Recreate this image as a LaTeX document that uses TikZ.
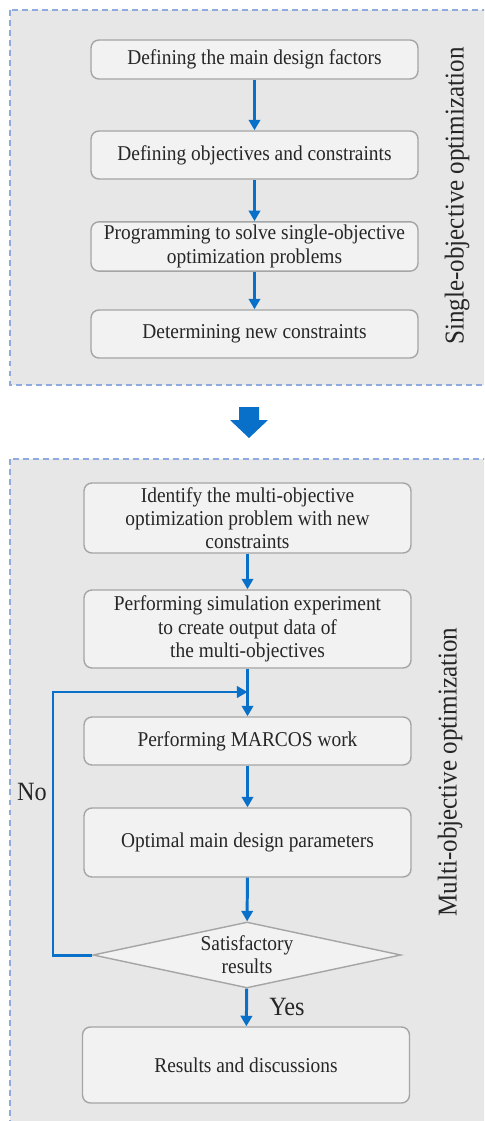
\documentclass[tikz,border=0pt]{standalone}
\usepackage{fontspec}
\setmainfont{Liberation Serif}[FakeStretch=0.92]
\usetikzlibrary{arrows.meta,shapes.geometric}
\definecolor{panelfill}{HTML}{E7E7E7}
\definecolor{paneledge}{HTML}{8FAADC}
\definecolor{boxfill}{HTML}{F2F2F2}
\definecolor{boxedge}{HTML}{A5A5A5}
\definecolor{flowblue}{HTML}{0870C8}
\definecolor{txt}{HTML}{262626}
\begin{document}
\begin{tikzpicture}[x=0.02cm,y=-0.02cm,>={Triangle[width=6.5pt,length=6pt]},
font=\fontsize{12}{13.2}\selectfont,text=txt,
panel/.style={fill=panelfill,draw=paneledge,line width=.85pt,dash pattern=on 3.4pt off 2.3pt},
stage/.style={draw=boxedge,fill=boxfill,line width=.8pt,rounded corners=4.5pt,minimum width=6.54cm,align=center,inner sep=2pt},
check/.style={diamond,draw=boxedge,fill=boxfill,line width=.8pt,minimum width=6.16cm,minimum height=1.32cm,aspect=4.67,inner sep=0pt,align=center},
flow/.style={->,draw=flowblue,line width=1.7pt},
side/.style={rotate=90,font=\fontsize{15.5}{17}\selectfont},
answer/.style={font=\fontsize{15}{17}\selectfont}]
\useasboundingbox (0,0) rectangle (484,1121);
\clip (0,0) rectangle (484,1121);
\draw[panel] (10,10) rectangle (495,385);
\draw[panel] (10,459) rectangle (495,1130);
\node[stage,minimum height=.78cm] (b1) at (254.5,59.5) {Defining the main design factors};
\node[stage,minimum height=.96cm] (b2) at (254.5,155) {Defining objectives and constraints};
\node[stage,minimum height=.98cm] (b3) at (254.5,246.5) {Programming to solve single-objective\\optimization problems};
\node[stage,minimum height=.96cm] (b4) at (254.5,334) {Determining new constraints};
\node[side] (single) at (457,196) {Single-objective optimization};
\draw[flow] (b1)--(b2);
\draw[flow] (b2)--(b3);
\draw[flow] (b3)--(b4);
\fill[flowblue] (239,407)--(259,407)--(259,420)--(268,420)--(249,438)--(230,420)--(239,420)--cycle;
\node[stage,minimum height=1.4cm] (m1) at (247.5,518) {Identify the multi-objective\\optimization problem with new\\constraints};
\node[stage,minimum height=1.56cm] (m2) at (247.5,629) {Performing simulation experiment\\to create output data of\\the multi-objectives};
\node[stage,minimum height=.96cm] (m3) at (247.5,741) {Performing MARCOS work};
\node[stage,minimum height=1.38cm] (m4) at (247.5,842.5) {Optimal main design parameters};
\node[check] (sat) at (247,955) {Satisfactory\\results};
\node[stage,minimum height=1.52cm] (m5) at (246,1065) {Results and discussions};
\node[side] (multi) at (450,772) {Multi-objective optimization};
\path (247.5,692) coordinate (join) (53,692) coordinate (back);
\draw[flow] (m1)--(m2);
\draw[flow] (m2)--(m3);
\draw[flow] (m3)--(m4);
\draw[flow] (m4)--(sat);
\draw[flow] (sat)--(m5);
\draw[flow] (sat.west)-|(back)--(join);
\node[answer] (no) at (32,792) {No};
\node[answer] (yes) at (287,1007) {Yes};
\end{tikzpicture}
\end{document}
